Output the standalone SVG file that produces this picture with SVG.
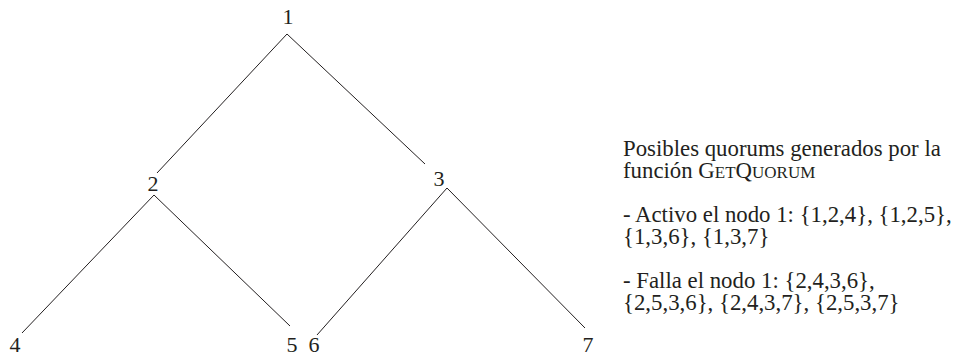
<svg xmlns="http://www.w3.org/2000/svg" width="964" height="358" viewBox="0 0 964 358">
<style>
.lbl{font-family:"Liberation Serif","Times New Roman",serif;font-size:22px;fill:#231f20;text-anchor:middle}
.txt{font-family:"Liberation Serif","Times New Roman",serif;font-size:22.8px;fill:#231f20}
.sc{font-size:17px}
.edge{stroke:#231f20;stroke-width:1;fill:none}
</style>
<rect width="964" height="358" fill="#fff"/>
<g id="connectors">
<line class="edge" x1="287" y1="34" x2="157" y2="173"/>
<line class="edge" x1="287" y1="34" x2="425" y2="164"/>
<line class="edge" x1="154" y1="195" x2="22" y2="333"/>
<line class="edge" x1="154" y1="195" x2="290" y2="326"/>
<line class="edge" x1="447" y1="188" x2="317" y2="335"/>
<line class="edge" x1="447" y1="188" x2="585" y2="328"/>
</g>
<g id="node1"><text class="lbl" x="288" y="24">1</text></g>
<g id="node2"><text class="lbl" x="153" y="191">2</text></g>
<g id="node3"><text class="lbl" x="439" y="186">3</text></g>
<g id="node4"><text class="lbl" x="15" y="352">4</text></g>
<g id="node5"><text class="lbl" x="292" y="352">5</text></g>
<g id="node6"><text class="lbl" x="314" y="352">6</text></g>
<g id="node7"><text class="lbl" x="588" y="352">7</text></g>
<g id="legend">
<text class="txt" x="623" y="156">Posibles quorums generados por la</text>
<text class="txt" x="623" y="178">función G<tspan class="sc">ET</tspan>Q<tspan class="sc">UORUM</tspan></text>
<text class="txt" x="623" y="222">- Activo el nodo 1: {1,2,4}, {1,2,5},</text>
<text class="txt" x="623" y="244">{1,3,6}, {1,3,7}</text>
<text class="txt" x="623" y="288">- Falla el nodo 1: {2,4,3,6},</text>
<text class="txt" x="623" y="310">{2,5,3,6}, {2,4,3,7}, {2,5,3,7}</text>
</g>
</svg>
